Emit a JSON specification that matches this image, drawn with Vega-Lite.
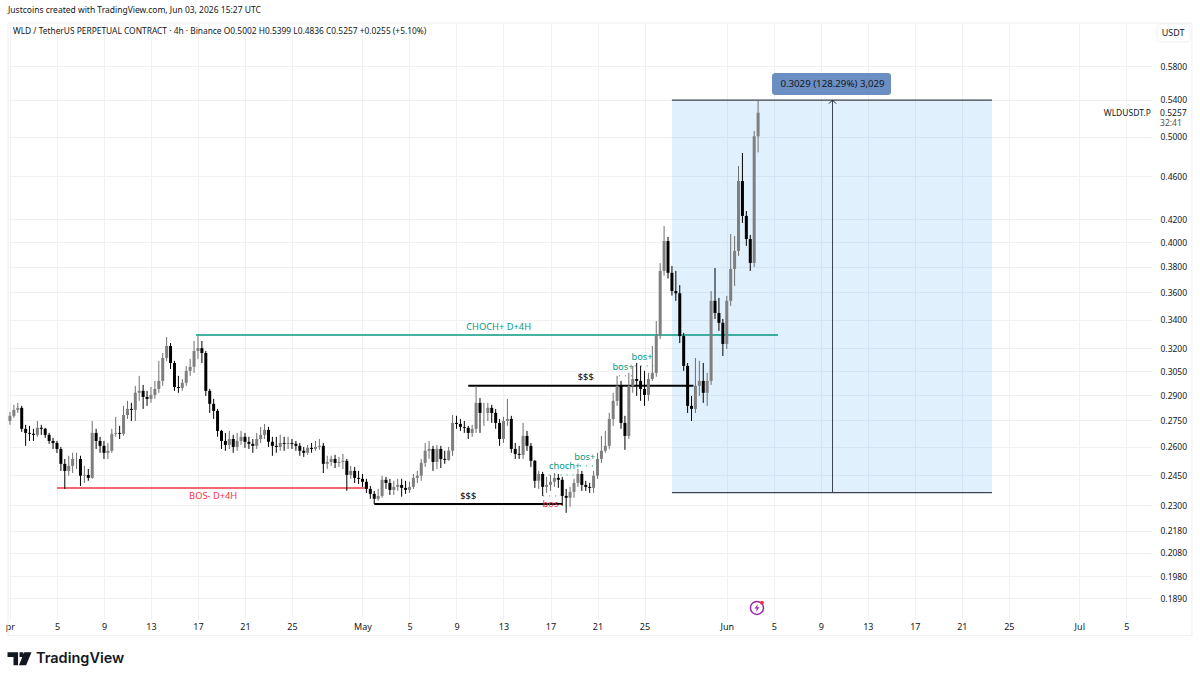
{
"$schema":"https://vega.github.io/schema/vega-lite/v5.json",
"description":"WLD/USDT perpetual 4h candles with smart-money levels and a long-position measure box.",
"width":1144,"height":596,
"autosize":"none",
"padding":{"left":8,"top":23,"right":48,"bottom":61},
"background":"#ffffff",
"title":{"text":"Justcoins created with TradingView.com, Jun 03, 2026 15:27 UTC","anchor":"start","frame":"group","offset":8,"font":"Noto Sans","fontSize":8.5,"fontWeight":"normal","color":"#131722"},
"datasets":{
"candles":[
{"d":"2026-04-01T00:00Z","o":0.2746,"h":0.2799,"l":0.2724,"c":0.2776},
{"d":"2026-04-01T08:00Z","o":0.2776,"h":0.2841,"l":0.2764,"c":0.2811},
{"d":"2026-04-01T16:00Z","o":0.2811,"h":0.2853,"l":0.2793,"c":0.2823},
{"d":"2026-04-02T00:00Z","o":0.2823,"h":0.2835,"l":0.2684,"c":0.2701},
{"d":"2026-04-02T08:00Z","o":0.2701,"h":0.2724,"l":0.2606,"c":0.2678},
{"d":"2026-04-02T16:00Z","o":0.2678,"h":0.2718,"l":0.2633,"c":0.2673},
{"d":"2026-04-03T00:00Z","o":0.2673,"h":0.2701,"l":0.2633,"c":0.2667},
{"d":"2026-04-03T08:00Z","o":0.2667,"h":0.2746,"l":0.2656,"c":0.2707},
{"d":"2026-04-03T16:00Z","o":0.2707,"h":0.2724,"l":0.2667,"c":0.2701},
{"d":"2026-04-04T00:00Z","o":0.2701,"h":0.2707,"l":0.2650,"c":0.2667},
{"d":"2026-04-04T08:00Z","o":0.2667,"h":0.2678,"l":0.2617,"c":0.2633},
{"d":"2026-04-04T16:00Z","o":0.2633,"h":0.2650,"l":0.2589,"c":0.2622},
{"d":"2026-04-05T00:00Z","o":0.2622,"h":0.2633,"l":0.2567,"c":0.2589},
{"d":"2026-04-05T08:00Z","o":0.2589,"h":0.2600,"l":0.2472,"c":0.2509},
{"d":"2026-04-05T16:00Z","o":0.2509,"h":0.2535,"l":0.2380,"c":0.2472},
{"d":"2026-04-06T00:00Z","o":0.2472,"h":0.2552,"l":0.2447,"c":0.2498},
{"d":"2026-04-06T08:00Z","o":0.2498,"h":0.2568,"l":0.2461,"c":0.2535},
{"d":"2026-04-06T16:00Z","o":0.2535,"h":0.2568,"l":0.2482,"c":0.2535},
{"d":"2026-04-07T00:00Z","o":0.2535,"h":0.2552,"l":0.2395,"c":0.2447},
{"d":"2026-04-07T08:00Z","o":0.2447,"h":0.2498,"l":0.2410,"c":0.2451},
{"d":"2026-04-07T16:00Z","o":0.2451,"h":0.2482,"l":0.2421,"c":0.2436},
{"d":"2026-04-08T00:00Z","o":0.2436,"h":0.2746,"l":0.2431,"c":0.2678},
{"d":"2026-04-08T08:00Z","o":0.2678,"h":0.2701,"l":0.2589,"c":0.2633},
{"d":"2026-04-08T16:00Z","o":0.2633,"h":0.2656,"l":0.2568,"c":0.2606},
{"d":"2026-04-09T00:00Z","o":0.2606,"h":0.2633,"l":0.2535,"c":0.2568},
{"d":"2026-04-09T08:00Z","o":0.2568,"h":0.2622,"l":0.2535,"c":0.2579},
{"d":"2026-04-09T16:00Z","o":0.2579,"h":0.2701,"l":0.2568,"c":0.2673},
{"d":"2026-04-10T00:00Z","o":0.2673,"h":0.2770,"l":0.2656,"c":0.2678},
{"d":"2026-04-10T08:00Z","o":0.2678,"h":0.2718,"l":0.2644,"c":0.2673},
{"d":"2026-04-10T16:00Z","o":0.2673,"h":0.2835,"l":0.2662,"c":0.2781},
{"d":"2026-04-11T00:00Z","o":0.2781,"h":0.2865,"l":0.2758,"c":0.2817},
{"d":"2026-04-11T08:00Z","o":0.2817,"h":0.2853,"l":0.2746,"c":0.2811},
{"d":"2026-04-11T16:00Z","o":0.2811,"h":0.2957,"l":0.2746,"c":0.2914},
{"d":"2026-04-12T00:00Z","o":0.2914,"h":0.3020,"l":0.2865,"c":0.2926},
{"d":"2026-04-12T08:00Z","o":0.2926,"h":0.2963,"l":0.2817,"c":0.2889},
{"d":"2026-04-12T16:00Z","o":0.2889,"h":0.2926,"l":0.2835,"c":0.2877},
{"d":"2026-04-13T00:00Z","o":0.2877,"h":0.2951,"l":0.2853,"c":0.2901},
{"d":"2026-04-13T08:00Z","o":0.2901,"h":0.2988,"l":0.2877,"c":0.2938},
{"d":"2026-04-13T16:00Z","o":0.2938,"h":0.3117,"l":0.2914,"c":0.2988},
{"d":"2026-04-14T00:00Z","o":0.2988,"h":0.3169,"l":0.2957,"c":0.3136},
{"d":"2026-04-14T08:00Z","o":0.3136,"h":0.3277,"l":0.3117,"c":0.3216},
{"d":"2026-04-14T16:00Z","o":0.3216,"h":0.3236,"l":0.3064,"c":0.3103},
{"d":"2026-04-15T00:00Z","o":0.3103,"h":0.3117,"l":0.2926,"c":0.2950},
{"d":"2026-04-15T08:00Z","o":0.2950,"h":0.3020,"l":0.2914,"c":0.2944},
{"d":"2026-04-15T16:00Z","o":0.2944,"h":0.3000,"l":0.2926,"c":0.2976},
{"d":"2026-04-16T00:00Z","o":0.2976,"h":0.3084,"l":0.2957,"c":0.3052},
{"d":"2026-04-16T08:00Z","o":0.3052,"h":0.3130,"l":0.3020,"c":0.3078},
{"d":"2026-04-16T16:00Z","o":0.3078,"h":0.3250,"l":0.3039,"c":0.3182},
{"d":"2026-04-17T00:00Z","o":0.3182,"h":0.3284,"l":0.3130,"c":0.3202},
{"d":"2026-04-17T08:00Z","o":0.3202,"h":0.3250,"l":0.3103,"c":0.3169},
{"d":"2026-04-17T16:00Z","o":0.3169,"h":0.3182,"l":0.2895,"c":0.2926},
{"d":"2026-04-18T00:00Z","o":0.2926,"h":0.2938,"l":0.2793,"c":0.2847},
{"d":"2026-04-18T08:00Z","o":0.2847,"h":0.2877,"l":0.2758,"c":0.2805},
{"d":"2026-04-18T16:00Z","o":0.2805,"h":0.2817,"l":0.2656,"c":0.2689},
{"d":"2026-04-19T00:00Z","o":0.2689,"h":0.2695,"l":0.2589,"c":0.2633},
{"d":"2026-04-19T08:00Z","o":0.2633,"h":0.2678,"l":0.2579,"c":0.2611},
{"d":"2026-04-19T16:00Z","o":0.2611,"h":0.2689,"l":0.2589,"c":0.2644},
{"d":"2026-04-20T00:00Z","o":0.2644,"h":0.2667,"l":0.2568,"c":0.2600},
{"d":"2026-04-20T08:00Z","o":0.2600,"h":0.2678,"l":0.2579,"c":0.2633},
{"d":"2026-04-20T16:00Z","o":0.2633,"h":0.2689,"l":0.2611,"c":0.2656},
{"d":"2026-04-21T00:00Z","o":0.2656,"h":0.2678,"l":0.2595,"c":0.2628},
{"d":"2026-04-21T08:00Z","o":0.2628,"h":0.2656,"l":0.2589,"c":0.2617},
{"d":"2026-04-21T16:00Z","o":0.2617,"h":0.2644,"l":0.2568,"c":0.2606},
{"d":"2026-04-22T00:00Z","o":0.2606,"h":0.2678,"l":0.2589,"c":0.2644},
{"d":"2026-04-22T08:00Z","o":0.2644,"h":0.2712,"l":0.2622,"c":0.2667},
{"d":"2026-04-22T16:00Z","o":0.2667,"h":0.2729,"l":0.2644,"c":0.2695},
{"d":"2026-04-23T00:00Z","o":0.2695,"h":0.2712,"l":0.2600,"c":0.2628},
{"d":"2026-04-23T08:00Z","o":0.2628,"h":0.2656,"l":0.2552,"c":0.2606},
{"d":"2026-04-23T16:00Z","o":0.2606,"h":0.2656,"l":0.2568,"c":0.2600},
{"d":"2026-04-24T00:00Z","o":0.2600,"h":0.2667,"l":0.2579,"c":0.2622},
{"d":"2026-04-24T08:00Z","o":0.2622,"h":0.2656,"l":0.2579,"c":0.2617},
{"d":"2026-04-24T16:00Z","o":0.2617,"h":0.2656,"l":0.2589,"c":0.2622},
{"d":"2026-04-25T00:00Z","o":0.2622,"h":0.2644,"l":0.2589,"c":0.2617},
{"d":"2026-04-25T08:00Z","o":0.2617,"h":0.2633,"l":0.2579,"c":0.2606},
{"d":"2026-04-25T16:00Z","o":0.2606,"h":0.2622,"l":0.2552,"c":0.2579},
{"d":"2026-04-26T00:00Z","o":0.2579,"h":0.2600,"l":0.2546,"c":0.2568},
{"d":"2026-04-26T08:00Z","o":0.2568,"h":0.2611,"l":0.2557,"c":0.2595},
{"d":"2026-04-26T16:00Z","o":0.2595,"h":0.2622,"l":0.2568,"c":0.2589},
{"d":"2026-04-27T00:00Z","o":0.2589,"h":0.2633,"l":0.2579,"c":0.2600},
{"d":"2026-04-27T08:00Z","o":0.2600,"h":0.2644,"l":0.2584,"c":0.2606},
{"d":"2026-04-27T16:00Z","o":0.2606,"h":0.2622,"l":0.2461,"c":0.2509},
{"d":"2026-04-28T00:00Z","o":0.2509,"h":0.2552,"l":0.2482,"c":0.2519},
{"d":"2026-04-28T08:00Z","o":0.2519,"h":0.2552,"l":0.2498,"c":0.2535},
{"d":"2026-04-28T16:00Z","o":0.2535,"h":0.2557,"l":0.2487,"c":0.2514},
{"d":"2026-04-29T00:00Z","o":0.2514,"h":0.2546,"l":0.2493,"c":0.2519},
{"d":"2026-04-29T08:00Z","o":0.2519,"h":0.2562,"l":0.2482,"c":0.2525},
{"d":"2026-04-29T16:00Z","o":0.2525,"h":0.2535,"l":0.2370,"c":0.2451},
{"d":"2026-04-30T00:00Z","o":0.2451,"h":0.2498,"l":0.2431,"c":0.2472},
{"d":"2026-04-30T08:00Z","o":0.2472,"h":0.2493,"l":0.2410,"c":0.2436},
{"d":"2026-04-30T16:00Z","o":0.2436,"h":0.2472,"l":0.2405,"c":0.2431},
{"d":"2026-05-01T00:00Z","o":0.2431,"h":0.2456,"l":0.2390,"c":0.2416},
{"d":"2026-05-01T08:00Z","o":0.2416,"h":0.2431,"l":0.2360,"c":0.2380},
{"d":"2026-05-01T16:00Z","o":0.2380,"h":0.2395,"l":0.2331,"c":0.2355},
{"d":"2026-05-02T00:00Z","o":0.2355,"h":0.2370,"l":0.2306,"c":0.2331},
{"d":"2026-05-02T08:00Z","o":0.2331,"h":0.2380,"l":0.2321,"c":0.2345},
{"d":"2026-05-02T16:00Z","o":0.2345,"h":0.2447,"l":0.2336,"c":0.2426},
{"d":"2026-05-03T00:00Z","o":0.2426,"h":0.2441,"l":0.2380,"c":0.2410},
{"d":"2026-05-03T08:00Z","o":0.2410,"h":0.2431,"l":0.2350,"c":0.2375},
{"d":"2026-05-03T16:00Z","o":0.2375,"h":0.2421,"l":0.2350,"c":0.2390},
{"d":"2026-05-04T00:00Z","o":0.2390,"h":0.2431,"l":0.2370,"c":0.2400},
{"d":"2026-05-04T08:00Z","o":0.2400,"h":0.2431,"l":0.2341,"c":0.2385},
{"d":"2026-05-04T16:00Z","o":0.2385,"h":0.2421,"l":0.2355,"c":0.2375},
{"d":"2026-05-05T00:00Z","o":0.2375,"h":0.2416,"l":0.2360,"c":0.2390},
{"d":"2026-05-05T08:00Z","o":0.2390,"h":0.2456,"l":0.2380,"c":0.2436},
{"d":"2026-05-05T16:00Z","o":0.2436,"h":0.2472,"l":0.2410,"c":0.2447},
{"d":"2026-05-06T00:00Z","o":0.2447,"h":0.2535,"l":0.2421,"c":0.2514},
{"d":"2026-05-06T08:00Z","o":0.2514,"h":0.2622,"l":0.2493,"c":0.2579},
{"d":"2026-05-06T16:00Z","o":0.2579,"h":0.2633,"l":0.2535,"c":0.2589},
{"d":"2026-05-07T00:00Z","o":0.2589,"h":0.2606,"l":0.2472,"c":0.2519},
{"d":"2026-05-07T08:00Z","o":0.2519,"h":0.2611,"l":0.2482,"c":0.2589},
{"d":"2026-05-07T16:00Z","o":0.2589,"h":0.2606,"l":0.2487,"c":0.2535},
{"d":"2026-05-08T00:00Z","o":0.2535,"h":0.2579,"l":0.2509,"c":0.2530},
{"d":"2026-05-08T08:00Z","o":0.2530,"h":0.2600,"l":0.2525,"c":0.2579},
{"d":"2026-05-08T16:00Z","o":0.2579,"h":0.2781,"l":0.2552,"c":0.2735},
{"d":"2026-05-09T00:00Z","o":0.2735,"h":0.2776,"l":0.2701,"c":0.2729},
{"d":"2026-05-09T08:00Z","o":0.2729,"h":0.2758,"l":0.2689,"c":0.2712},
{"d":"2026-05-09T16:00Z","o":0.2712,"h":0.2746,"l":0.2678,"c":0.2707},
{"d":"2026-05-10T00:00Z","o":0.2707,"h":0.2718,"l":0.2644,"c":0.2678},
{"d":"2026-05-10T08:00Z","o":0.2678,"h":0.2724,"l":0.2656,"c":0.2701},
{"d":"2026-05-10T16:00Z","o":0.2701,"h":0.2957,"l":0.2678,"c":0.2853},
{"d":"2026-05-11T00:00Z","o":0.2853,"h":0.2883,"l":0.2678,"c":0.2793},
{"d":"2026-05-11T08:00Z","o":0.2793,"h":0.2853,"l":0.2718,"c":0.2793},
{"d":"2026-05-11T16:00Z","o":0.2793,"h":0.2853,"l":0.2746,"c":0.2823},
{"d":"2026-05-12T00:00Z","o":0.2823,"h":0.2841,"l":0.2735,"c":0.2793},
{"d":"2026-05-12T08:00Z","o":0.2793,"h":0.2817,"l":0.2701,"c":0.2735},
{"d":"2026-05-12T16:00Z","o":0.2735,"h":0.2758,"l":0.2606,"c":0.2644},
{"d":"2026-05-13T00:00Z","o":0.2644,"h":0.2770,"l":0.2622,"c":0.2746},
{"d":"2026-05-13T08:00Z","o":0.2746,"h":0.2877,"l":0.2718,"c":0.2758},
{"d":"2026-05-13T16:00Z","o":0.2758,"h":0.2776,"l":0.2568,"c":0.2589},
{"d":"2026-05-14T00:00Z","o":0.2589,"h":0.2622,"l":0.2535,"c":0.2562},
{"d":"2026-05-14T08:00Z","o":0.2562,"h":0.2606,"l":0.2535,"c":0.2557},
{"d":"2026-05-14T16:00Z","o":0.2557,"h":0.2735,"l":0.2535,"c":0.2661},
{"d":"2026-05-15T00:00Z","o":0.2661,"h":0.2689,"l":0.2579,"c":0.2606},
{"d":"2026-05-15T08:00Z","o":0.2606,"h":0.2622,"l":0.2493,"c":0.2525},
{"d":"2026-05-15T16:00Z","o":0.2525,"h":0.2530,"l":0.2385,"c":0.2421},
{"d":"2026-05-16T00:00Z","o":0.2421,"h":0.2472,"l":0.2380,"c":0.2456},
{"d":"2026-05-16T08:00Z","o":0.2456,"h":0.2467,"l":0.2345,"c":0.2390},
{"d":"2026-05-16T16:00Z","o":0.2390,"h":0.2441,"l":0.2360,"c":0.2400},
{"d":"2026-05-17T00:00Z","o":0.2400,"h":0.2451,"l":0.2370,"c":0.2416},
{"d":"2026-05-17T08:00Z","o":0.2416,"h":0.2461,"l":0.2390,"c":0.2436},
{"d":"2026-05-17T16:00Z","o":0.2436,"h":0.2456,"l":0.2385,"c":0.2426},
{"d":"2026-05-18T00:00Z","o":0.2426,"h":0.2441,"l":0.2297,"c":0.2345},
{"d":"2026-05-18T08:00Z","o":0.2345,"h":0.2380,"l":0.2263,"c":0.2336},
{"d":"2026-05-18T16:00Z","o":0.2336,"h":0.2390,"l":0.2292,"c":0.2365},
{"d":"2026-05-19T00:00Z","o":0.2365,"h":0.2431,"l":0.2336,"c":0.2410},
{"d":"2026-05-19T08:00Z","o":0.2410,"h":0.2482,"l":0.2390,"c":0.2456},
{"d":"2026-05-19T16:00Z","o":0.2456,"h":0.2472,"l":0.2370,"c":0.2400},
{"d":"2026-05-20T00:00Z","o":0.2400,"h":0.2421,"l":0.2370,"c":0.2390},
{"d":"2026-05-20T08:00Z","o":0.2390,"h":0.2410,"l":0.2360,"c":0.2385},
{"d":"2026-05-20T16:00Z","o":0.2385,"h":0.2472,"l":0.2360,"c":0.2447},
{"d":"2026-05-21T00:00Z","o":0.2447,"h":0.2568,"l":0.2431,"c":0.2535},
{"d":"2026-05-21T08:00Z","o":0.2535,"h":0.2661,"l":0.2514,"c":0.2579},
{"d":"2026-05-21T16:00Z","o":0.2579,"h":0.2689,"l":0.2568,"c":0.2606},
{"d":"2026-05-22T00:00Z","o":0.2606,"h":0.2793,"l":0.2589,"c":0.2758},
{"d":"2026-05-22T08:00Z","o":0.2758,"h":0.2914,"l":0.2718,"c":0.2865},
{"d":"2026-05-22T16:00Z","o":0.2865,"h":0.3020,"l":0.2835,"c":0.2957},
{"d":"2026-05-23T00:00Z","o":0.2957,"h":0.2988,"l":0.2701,"c":0.2735},
{"d":"2026-05-23T08:00Z","o":0.2735,"h":0.2776,"l":0.2584,"c":0.2661},
{"d":"2026-05-23T16:00Z","o":0.2661,"h":0.3039,"l":0.2644,"c":0.2957},
{"d":"2026-05-24T00:00Z","o":0.2957,"h":0.3084,"l":0.2914,"c":0.3000},
{"d":"2026-05-24T08:00Z","o":0.3000,"h":0.3103,"l":0.2895,"c":0.2988},
{"d":"2026-05-24T16:00Z","o":0.2988,"h":0.3084,"l":0.2865,"c":0.2938},
{"d":"2026-05-25T00:00Z","o":0.2938,"h":0.3052,"l":0.2835,"c":0.2901},
{"d":"2026-05-25T08:00Z","o":0.2901,"h":0.3039,"l":0.2865,"c":0.3000},
{"d":"2026-05-25T16:00Z","o":0.3000,"h":0.3216,"l":0.2988,"c":0.3039},
{"d":"2026-05-26T00:00Z","o":0.3039,"h":0.3390,"l":0.3014,"c":0.3284},
{"d":"2026-05-26T08:00Z","o":0.3284,"h":0.3830,"l":0.3264,"c":0.3767},
{"d":"2026-05-26T16:00Z","o":0.3767,"h":0.4140,"l":0.3730,"c":0.4012},
{"d":"2026-05-27T00:00Z","o":0.4012,"h":0.4047,"l":0.3707,"c":0.3752},
{"d":"2026-05-27T08:00Z","o":0.3752,"h":0.3806,"l":0.3577,"c":0.3611},
{"d":"2026-05-27T16:00Z","o":0.3611,"h":0.3767,"l":0.3537,"c":0.3594},
{"d":"2026-05-28T00:00Z","o":0.3594,"h":0.3656,"l":0.3236,"c":0.3284},
{"d":"2026-05-28T08:00Z","o":0.3284,"h":0.3306,"l":0.3052,"c":0.3084},
{"d":"2026-05-28T16:00Z","o":0.3084,"h":0.3103,"l":0.2793,"c":0.2835},
{"d":"2026-05-29T00:00Z","o":0.2835,"h":0.2895,"l":0.2746,"c":0.2817},
{"d":"2026-05-29T08:00Z","o":0.2817,"h":0.3136,"l":0.2793,"c":0.2957},
{"d":"2026-05-29T16:00Z","o":0.2957,"h":0.3117,"l":0.2895,"c":0.2988},
{"d":"2026-05-30T00:00Z","o":0.2988,"h":0.3103,"l":0.2853,"c":0.2914},
{"d":"2026-05-30T08:00Z","o":0.2914,"h":0.3039,"l":0.2835,"c":0.2988},
{"d":"2026-05-30T16:00Z","o":0.2988,"h":0.3611,"l":0.2963,"c":0.3537},
{"d":"2026-05-31T00:00Z","o":0.3537,"h":0.3790,"l":0.3405,"c":0.3448},
{"d":"2026-05-31T08:00Z","o":0.3448,"h":0.3559,"l":0.3320,"c":0.3377},
{"d":"2026-05-31T16:00Z","o":0.3377,"h":0.3405,"l":0.3149,"c":0.3230},
{"d":"2026-06-01T00:00Z","o":0.3230,"h":0.3574,"l":0.3196,"c":0.3537},
{"d":"2026-06-01T08:00Z","o":0.3537,"h":0.4072,"l":0.3500,"c":0.3783},
{"d":"2026-06-01T16:00Z","o":0.3783,"h":0.4055,"l":0.3650,"c":0.3929},
{"d":"2026-06-02T00:00Z","o":0.3929,"h":0.4699,"l":0.3888,"c":0.4553},
{"d":"2026-06-02T08:00Z","o":0.4553,"h":0.4830,"l":0.4168,"c":0.4230},
{"d":"2026-06-02T16:00Z","o":0.4230,"h":0.4274,"l":0.3971,"c":0.4029},
{"d":"2026-06-03T00:00Z","o":0.4029,"h":0.4064,"l":0.3767,"c":0.3831},
{"d":"2026-06-03T08:00Z","o":0.3831,"h":0.5059,"l":0.3799,"c":0.5002},
{"d":"2026-06-03T16:00Z","o":0.5002,"h":0.5399,"l":0.4836,"c":0.5257}
],
"levels":[
{"kind":"choch","start":"2026-04-16T20:00Z","end":"2026-06-05T08:40Z","price":0.3292},
{"kind":"bos","start":"2026-04-05T00:00Z","end":"2026-05-01T05:00Z","price":0.2385},
{"kind":"sweep","start":"2026-05-02T00:00Z","end":"2026-05-18T00:00Z","price":0.2306},
{"kind":"sweep","start":"2026-05-10T00:00Z","end":"2026-05-29T04:00Z","price":0.2957},
{"kind":"position","start":"2026-05-27T08:00Z","end":"2026-06-23T13:40Z","price":0.5399},
{"kind":"position","start":"2026-05-27T08:00Z","end":"2026-06-23T13:40Z","price":0.2361}
],
"dots":[
{"kind":"bos","start":"2026-05-16T09:00Z","end":"2026-05-17T12:00Z","price":0.2345},
{"kind":"choch","start":"2026-05-16T20:00Z","end":"2026-05-19T08:00Z","price":0.2451},
{"kind":"choch","start":"2026-05-19T12:00Z","end":"2026-05-20T22:00Z","price":0.2498},
{"kind":"choch","start":"2026-05-22T20:00Z","end":"2026-05-24T04:00Z","price":0.3020},
{"kind":"choch","start":"2026-05-24T04:00Z","end":"2026-05-25T18:00Z","price":0.3084}
],
"labels":[
{"kind":"choch","d":"2026-05-12T14:00Z","price":0.3348,"text":"CHOCH+ D+4H"},
{"kind":"bos","d":"2026-04-18T07:00Z","price":0.2345,"text":"BOS- D+4H"},
{"kind":"sweep","d":"2026-05-10T00:00Z","price":0.2345,"text":"$$$"},
{"kind":"sweep","d":"2026-05-20T00:00Z","price":0.3013,"text":"$$$"},
{"kind":"bos","d":"2026-05-17T03:00Z","price":0.2306,"text":"bos-"},
{"kind":"choch","d":"2026-05-18T05:00Z","price":0.2498,"text":"choch+"},
{"kind":"choch","d":"2026-05-19T22:00Z","price":0.2546,"text":"bos+"},
{"kind":"choch","d":"2026-05-23T04:00Z","price":0.3077,"text":"bos+"},
{"kind":"choch","d":"2026-05-24T19:00Z","price":0.3143,"text":"bos+"}
]
},
"encoding":{
"x":{"field":"d","type":"temporal","scale":{"type":"utc","padding":0,"domain":["2026-03-31T20:00:00Z","2026-07-07T04:30:00Z"]},"title":null,
"axis":{"values":["2026-04-01T00:00:00Z","2026-04-05T00:00:00Z","2026-04-09T00:00:00Z","2026-04-13T00:00:00Z","2026-04-17T00:00:00Z","2026-04-21T00:00:00Z","2026-04-25T00:00:00Z","2026-05-01T00:00:00Z","2026-05-05T00:00:00Z","2026-05-09T00:00:00Z","2026-05-13T00:00:00Z","2026-05-17T00:00:00Z","2026-05-21T00:00:00Z","2026-05-25T00:00:00Z","2026-06-01T00:00:00Z","2026-06-05T00:00:00Z","2026-06-09T00:00:00Z","2026-06-13T00:00:00Z","2026-06-17T00:00:00Z","2026-06-21T00:00:00Z","2026-06-25T00:00:00Z","2026-07-01T00:00:00Z","2026-07-05T00:00:00Z"],
"labelExpr":"utcmonth(datum.value)==3&&utcdate(datum.value)==1?'pr':utcdate(datum.value)==1?utcFormat(datum.value,'%b'):utcFormat(datum.value,'%-d')",
"grid":true,"gridColor":"#f1f1f4","domain":false,"ticks":false,"labelPadding":3,"labelFont":"Noto Sans","labelFontSize":9,"labelColor":"#131722","labelOverlap":false,"labelBound":false,"labelFlush":false,"labelAngle":0}},
"y":{"type":"quantitative","scale":{"type":"log","domain":[0.18094,0.6351],"nice":false},"title":null,
"axis":{"orient":"right","values":[0.58,0.54,0.5,0.46,0.42,0.4,0.38,0.36,0.34,0.32,0.305,0.29,0.275,0.26,0.245,0.23,0.218,0.208,0.198,0.189],"format":".4f",
"grid":true,"gridColor":"#f1f1f4","domain":false,"ticks":false,"labelPadding":8,"labelFont":"Noto Sans","labelFontSize":8.5,"labelColor":"#131722","labelOverlap":false,"labelBound":false}}
},
"layer":[
{"data":{"values":[{"d":"2026-03-31T20:00:00Z","d2":"2026-07-10T14:00:00Z","top":0.6351,"bottom":0.1747}]},
 "mark":{"type":"rect","fill":null,"stroke":"#eeeef0","strokeWidth":1},
 "encoding":{"x2":{"field":"d2"},"y":{"field":"top"},"y2":{"field":"bottom"}}},
{"data":{"values":[{"d":"2026-05-27T08:00:00Z","d2":"2026-06-23T13:40:00Z","top":0.5399,"bottom":0.2361}]},
 "mark":{"type":"rect","color":"#2196f3","opacity":0.14},
 "encoding":{"x2":{"field":"d2"},"y":{"field":"top"},"y2":{"field":"bottom"}}},
{"data":{"name":"levels"},
 "mark":{"type":"rule"},
 "encoding":{"x":{"field":"start","type":"temporal"},"x2":{"field":"end"},"y":{"field":"price"},
  "color":{"field":"kind","type":"nominal","legend":null,"scale":{"domain":["choch","bos","sweep","position"],"range":["#089981","#f23645","#000000","#131722"]}},
  "strokeWidth":{"condition":[{"test":"datum.kind=='position'","value":1},{"test":"datum.kind=='sweep'","value":2}],"value":1.5}}},
{"data":{"name":"dots"},
 "mark":{"type":"rule","strokeDash":[1,5],"strokeWidth":1},
 "encoding":{"x":{"field":"start","type":"temporal"},"x2":{"field":"end"},"y":{"field":"price"},
  "color":{"field":"kind","type":"nominal","legend":null}}},
{"data":{"name":"labels"},
 "mark":{"type":"text","font":"Noto Sans","fontSize":9.3,"align":"center","baseline":"middle"},
 "encoding":{"x":{"field":"d","type":"temporal"},"y":{"field":"price"},"text":{"field":"text"},
  "color":{"field":"kind","type":"nominal","legend":null}}},
{"data":{"name":"candles"},
 "mark":{"type":"rule","strokeWidth":1},
 "encoding":{"y":{"field":"l"},"y2":{"field":"h"},
  "color":{"condition":{"test":"datum.c>=datum.o","value":"#6f6f6f"},"value":"#000000"}}},
{"data":{"name":"candles"},
 "mark":{"type":"bar","size":3,"orient":"vertical"},
 "encoding":{"y":{"field":"o"},"y2":{"field":"c"},
  "color":{"condition":{"test":"datum.c>=datum.o","value":"#7f7f7f"},"value":"#000000"}}},
{"data":{"values":[{"d":"2026-06-10T00:00:00Z","bottom":0.2361,"top":0.5399}]},
 "mark":{"type":"rule","color":"#3a4450","strokeWidth":1},
 "encoding":{"y":{"field":"bottom"},"y2":{"field":"top"}}},
{"data":{"values":[{"d":"2026-06-10T00:00:00Z","price":0.5399}]},
 "mark":{"type":"point","shape":"M-1,1L0,0L1,1","size":49,"filled":false,"color":"#131722","strokeWidth":1,"opacity":1},
 "encoding":{"y":{"field":"price"}}},
{"data":{"values":[{"d":"2026-06-04T20:25:00Z","d2":"2026-06-14T23:30:00Z","top":0.5716,"bottom":0.5457}]},
 "mark":{"type":"rect","fill":"#6b8fc2","cornerRadius":3},
 "encoding":{"x2":{"field":"d2"},"y":{"field":"top"},"y2":{"field":"bottom"}}},
{"data":{"values":[{"d":"2026-06-10T00:00:00Z","price":0.5585,"text":"0.3029 (128.29%) 3,029"}]},
 "mark":{"type":"text","font":"Noto Sans","fontSize":9.7,"align":"center","baseline":"middle","color":"#131722"},
 "encoding":{"y":{"field":"price"},"text":{"field":"text"}}},
{"data":{"values":[{"d":"2026-04-01T06:00:00Z","price":0.6245,"text":"WLD / TetherUS PERPETUAL CONTRACT · 4h · Binance  O0.5002  H0.5399  L0.4836  C0.5257  +0.0255 (+5.10%)"}]},
 "mark":{"type":"text","font":"Noto Sans","fontSize":8.4,"align":"left","baseline":"middle","color":"#131722"},
 "encoding":{"y":{"field":"price"},"text":{"field":"text"}}},
{"data":{"values":[{"d":"2026-07-07T15:00:00Z","d2":"2026-07-10T10:00:00Z","top":0.6338,"bottom":0.6102}]},
 "mark":{"type":"rect","fill":"#ffffff","stroke":"#f0f0f3","cornerRadius":2},
 "encoding":{"x2":{"field":"d2"},"y":{"field":"top"},"y2":{"field":"bottom"}}},
{"data":{"values":[{"d":"2026-07-08T23:30:00Z","price":0.6220,"text":"USDT"}]},
 "mark":{"type":"text","font":"Noto Sans","fontSize":9,"align":"center","baseline":"middle","color":"#131722"},
 "encoding":{"y":{"field":"price"},"text":{"field":"text"}}},
{"data":{"values":[{"d":"2026-07-07T02:00:00Z","price":0.5257,"text":"WLDUSDT.P"}]},
 "mark":{"type":"text","font":"Noto Sans","fontSize":8.5,"align":"right","baseline":"middle","color":"#131722"},
 "encoding":{"y":{"field":"price"},"text":{"field":"text"}}},
{"data":{"values":[{"d":"2026-07-07T21:00:00Z","price":0.5257,"text":"0.5257"},{"d":"2026-07-07T21:00:00Z","price":0.5145,"text":"32:41"}]},
 "mark":{"type":"text","font":"Noto Sans","fontSize":8.5,"align":"left","baseline":"middle"},
 "encoding":{"y":{"field":"price"},"text":{"field":"text"},
  "color":{"condition":{"test":"datum.text=='32:41'","value":"#50535e"},"value":"#131722"}}},
{"data":{"values":[{"d":"2026-06-03T13:40:00Z","price":0.1852}]},
 "mark":{"type":"point","shape":"circle","size":170,"filled":false,"color":"#9c27b0","strokeWidth":1.5,"opacity":1},
 "encoding":{"y":{"field":"price"}}},
{"data":{"values":[{"d":"2026-06-03T13:40:00Z","price":0.1852}]},
 "mark":{"type":"point","shape":"M0.25,-1L-0.6,0.15L-0.05,0.15L-0.25,1L0.6,-0.15L0.05,-0.15Z","size":64,"filled":true,"color":"#9c27b0","opacity":1},
 "encoding":{"y":{"field":"price"}}},
{"data":{"values":[{"d":"2026-06-03T23:50:00Z","price":0.1872}]},
 "mark":{"type":"point","shape":"circle","size":16,"filled":true,"color":"#f23645","opacity":1},
 "encoding":{"y":{"field":"price"}}},
{"data":{"values":[{"d":"2026-04-01T19:30:00Z","price":0.1664}]},
 "mark":{"type":"point","shape":"M-1,-0.55H-0.12V0.55H-0.5V-0.15H-1ZM0,-0.55H0.32V-0.15H0ZM0.4,-0.55H1L0.55,0.55H-0.05Z","size":576,"filled":true,"color":"#131722","opacity":1},
 "encoding":{"y":{"field":"price"}}},
{"data":{"values":[{"d":"2026-04-03T05:00:00Z","price":0.1664,"text":"TradingView"}]},
 "mark":{"type":"text","font":"Inter","fontSize":14.5,"fontWeight":600,"align":"left","baseline":"middle","color":"#131722"},
 "encoding":{"y":{"field":"price"},"text":{"field":"text"}}}
],
"config":{"view":{"stroke":null}}
}
